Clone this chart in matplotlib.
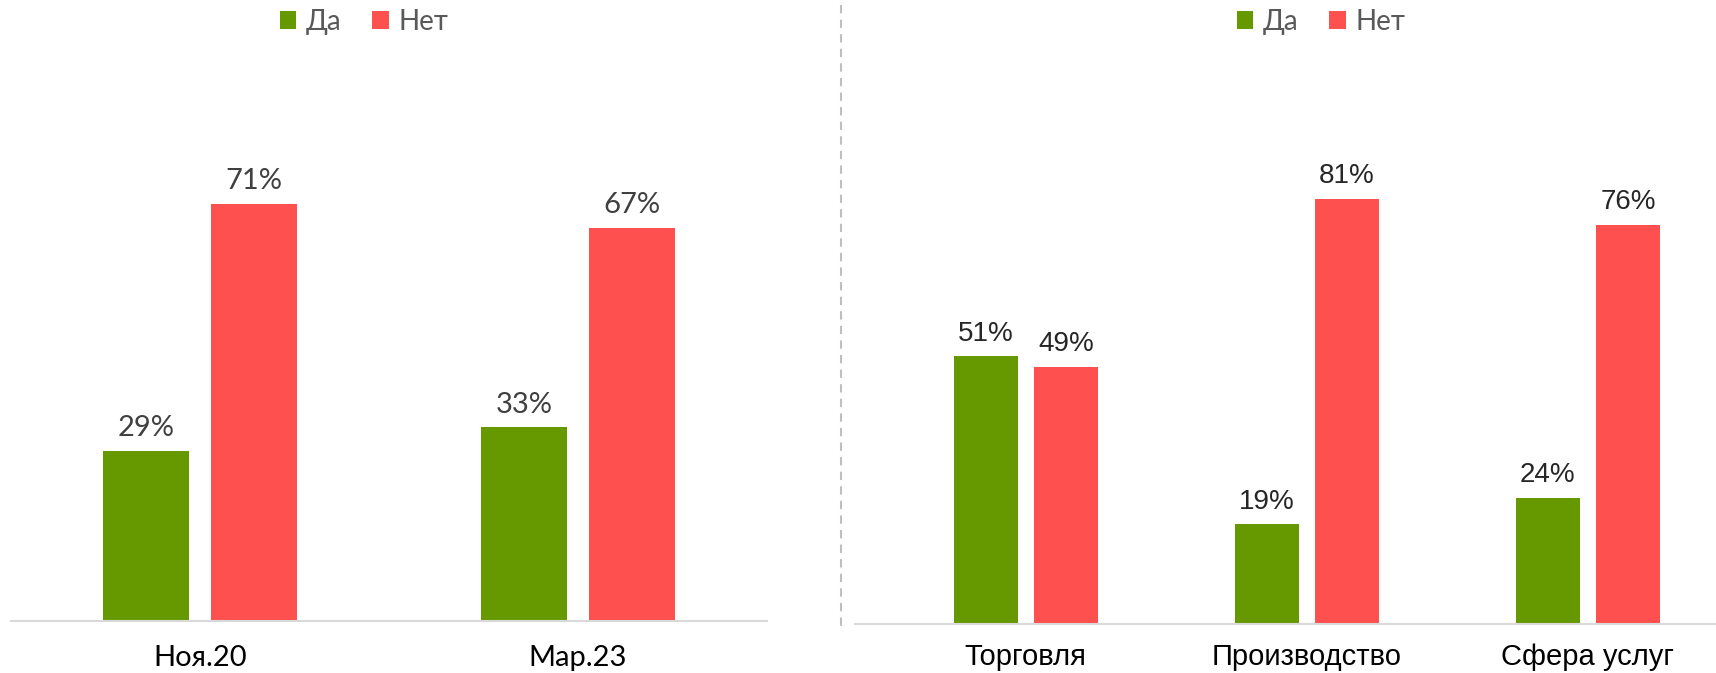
import matplotlib
matplotlib.use("Agg")
import matplotlib.pyplot as plt
import numpy as np

# data
series = ["Да", "Нет"]
left_cats = ["Ноя.20", "Мар.23"]
left_da = [29, 33]
left_net = [71, 67]
right_cats = ["Торговля", "Производство", "Сфера услуг"]
right_da = [51, 19, 24]
right_net = [49, 81, 76]

GREEN = "#669900"
RED = "#FF5050"


def draw(ax, cats, da, net, font, lab_color, tick_color, fs_val, fs_tick, pad):
    x = np.arange(len(cats))
    w = 0.228
    gap = 0.057
    b1 = ax.bar(x - (w + gap) / 2, da, w, color=GREEN, label=series[0])
    b2 = ax.bar(x + (w + gap) / 2, net, w, color=RED, label=series[1])
    for bars in (b1, b2):
        for b in bars:
            ax.annotate(f"{b.get_height():.0f}%",
                        (b.get_x() + b.get_width() / 2, b.get_height()),
                        xytext=(0, 7), textcoords="offset points",
                        ha="center", va="bottom", fontsize=fs_val,
                        color=lab_color, family=font)
    ax.set_xticks(x)
    ax.set_xticklabels(cats, fontsize=fs_tick, color=tick_color, family=font)
    ax.tick_params(axis="x", length=0, pad=pad)
    ax.set_yticks([])
    for s in ("top", "right", "left"):
        ax.spines[s].set_visible(False)
    ax.spines["bottom"].set_color("#d9d9d9")
    ax.spines["bottom"].set_linewidth(1.5)
    ax.set_ylim(0, 90)
    return b1, b2


def add_legend(ax, fig, cx):
    ax.legend(loc="center", bbox_to_anchor=(cx / 1716, 1 - 22 / 673),
              bbox_transform=fig.transFigure, ncol=2, frameon=False,
              handlelength=0.6, handleheight=0.6, handletextpad=0.35,
              columnspacing=1.1, prop={"family": "Lato", "size": 20},
              labelcolor="#595959")


def main():
    fig = plt.figure(figsize=(17.16, 6.73), dpi=100)

    ax1 = fig.add_axes([0.0064, 0.0773, 0.4406, 0.785])
    ax1.set_xlim(-0.5, 1.5)
    draw(ax1, left_cats, left_da, left_net, "Lato", "#404040", "#000000", 21, 21, 17)
    add_legend(ax1, fig, 364)

    ax2 = fig.add_axes([0.498, 0.0728, 0.502, 0.702])
    ax2.set_xlim(-0.609, 2.456)
    draw(ax2, right_cats, right_da, right_net, "Liberation Sans", "#262626", "#000000", 20, 21, 14)
    add_legend(ax2, fig, 1321)

    # dashed separator
    fig.add_artist(plt.Line2D([841 / 1716, 841 / 1716], [1 - 5 / 673, 1 - 629 / 673],
                              transform=fig.transFigure, color="#bfbfbf",
                              linestyle=(0, (4, 3)), linewidth=1.5))

    fig.savefig("out.png", dpi=100)


if __name__ == "__main__":
    main()
